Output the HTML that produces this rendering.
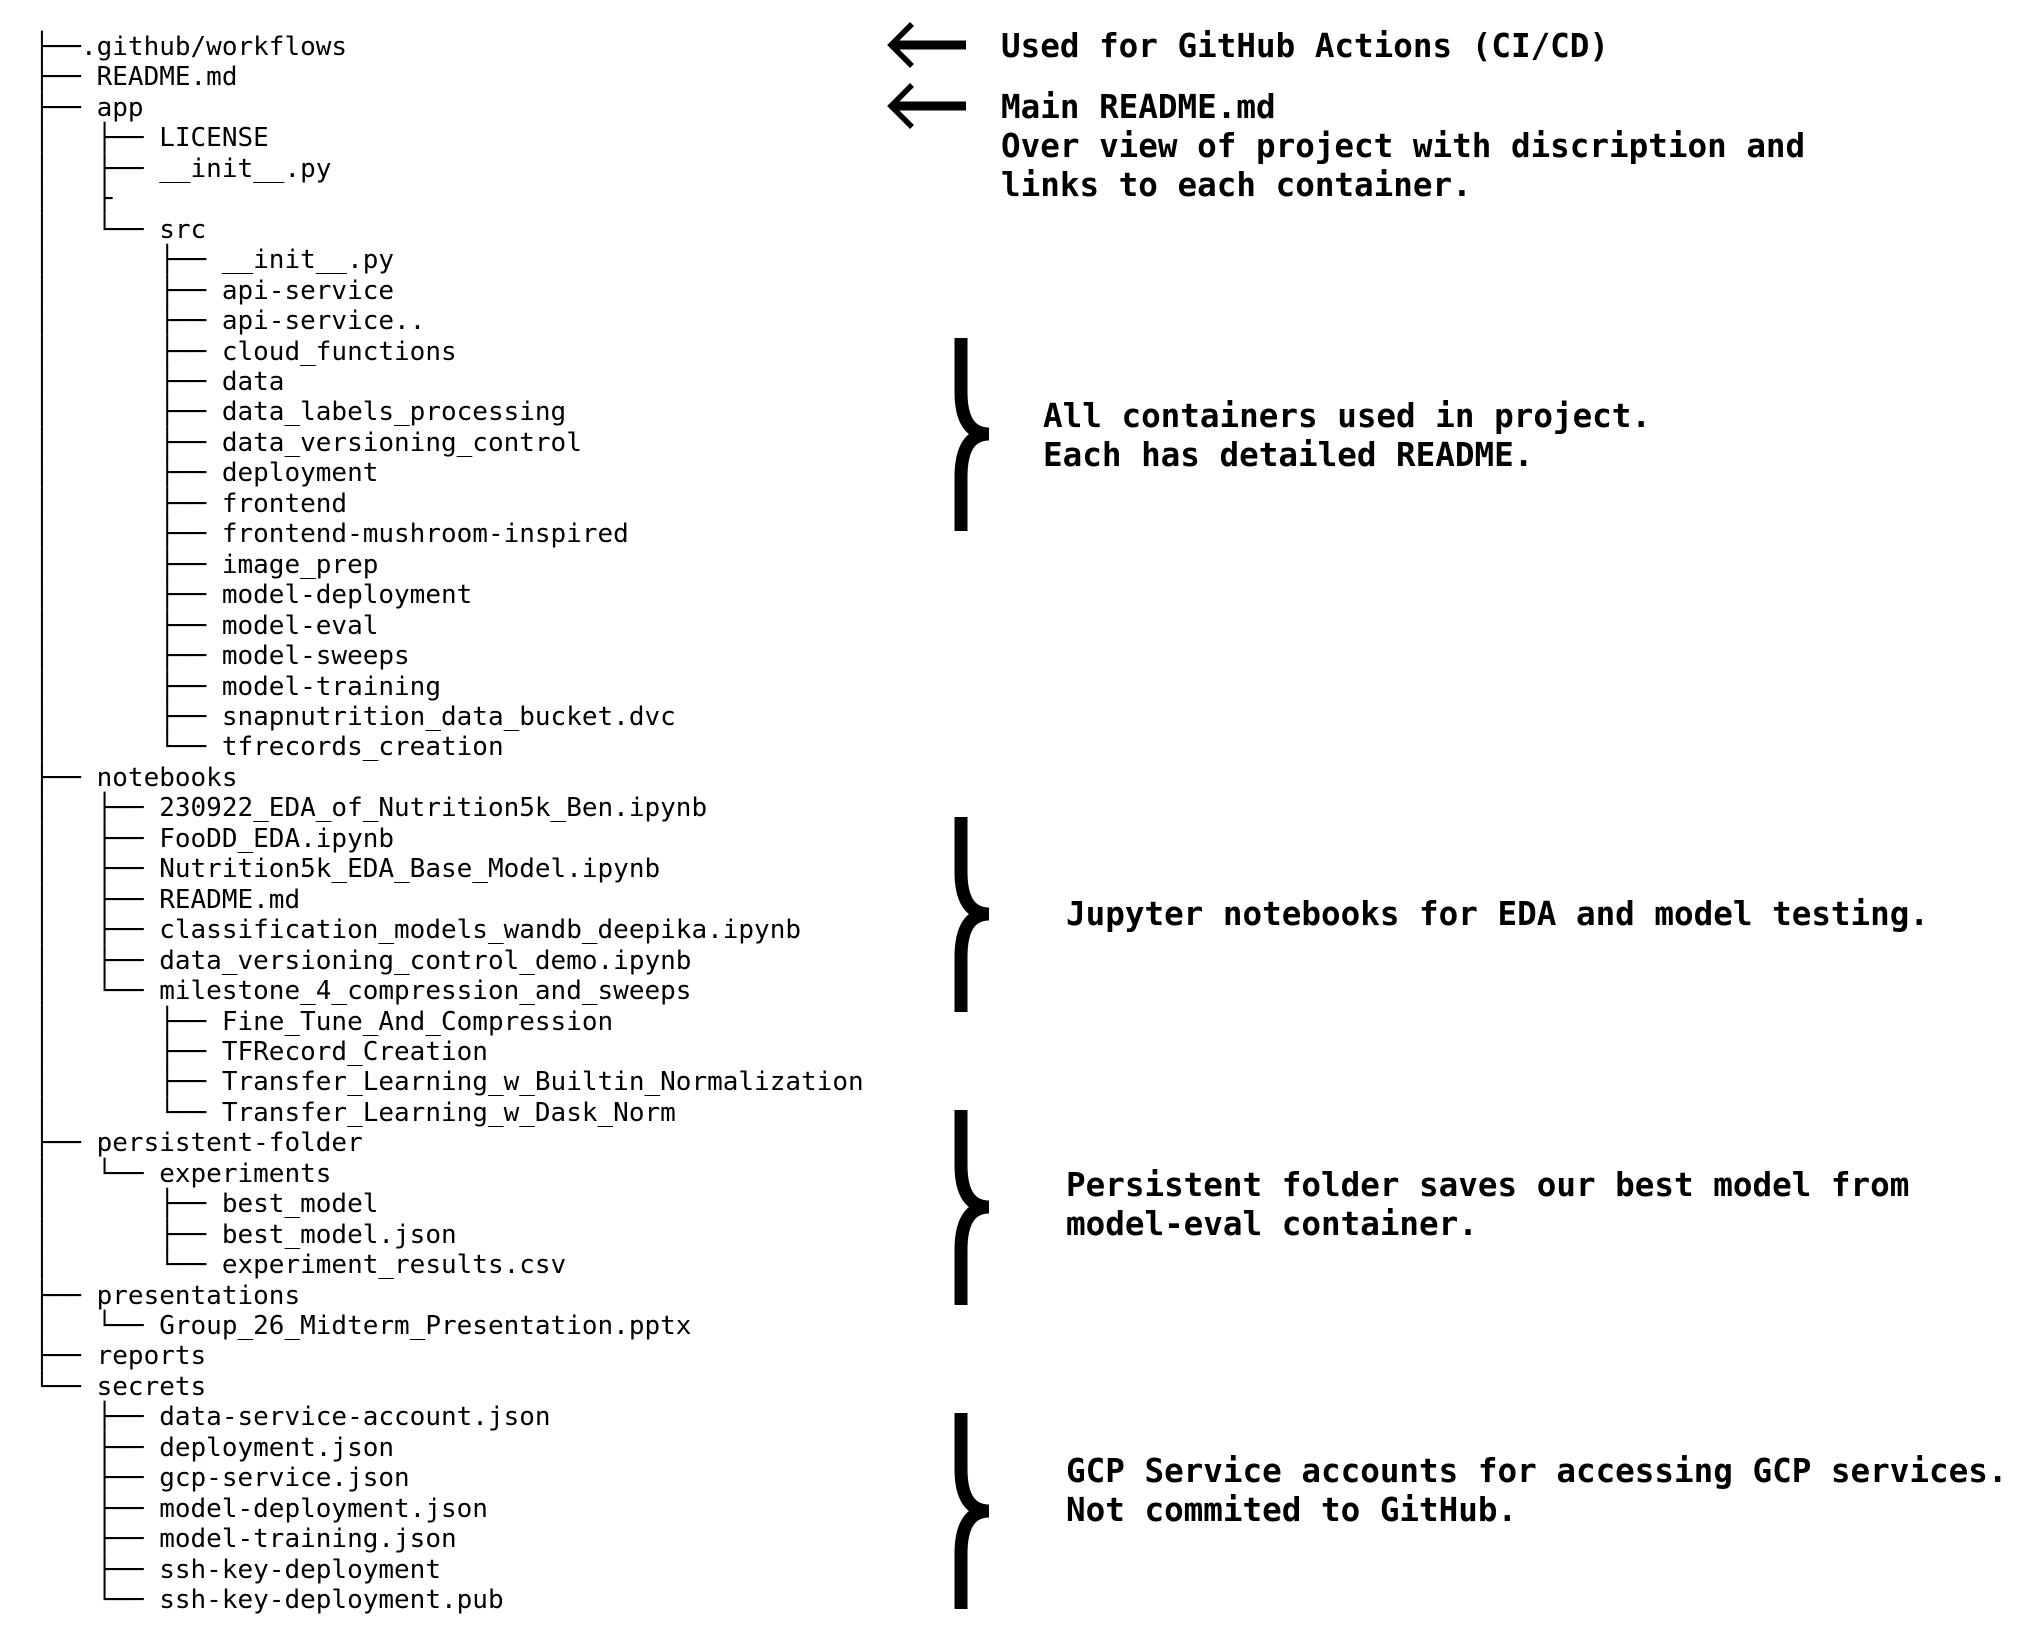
<!DOCTYPE html>
<html><head><meta charset="utf-8"><style>
html,body{margin:0;padding:0;background:#fff;width:2028px;height:1628px;overflow:hidden;position:relative}
pre{position:absolute;left:34px;top:32px;margin:0;font-family:"DejaVu Sans Mono","Liberation Mono",monospace;font-size:26px;line-height:30.45px;color:#000}
.t{position:absolute;font-family:"DejaVu Sans Mono","Liberation Mono",monospace;font-weight:bold;font-size:32.6px;line-height:39px;color:#000;white-space:pre}
svg{position:absolute;left:0;top:0}
</style></head><body>
<pre>├──.github/workflows
├── README.md
├── app
│   ├── LICENSE
│   ├── __init__.py
│   ├
│   └── src
│       ├── __init__.py
│       ├── api-service
│       ├── api-service..
│       ├── cloud_functions
│       ├── data
│       ├── data_labels_processing
│       ├── data_versioning_control
│       ├── deployment
│       ├── frontend
│       ├── frontend-mushroom-inspired
│       ├── image_prep
│       ├── model-deployment
│       ├── model-eval
│       ├── model-sweeps
│       ├── model-training
│       ├── snapnutrition_data_bucket.dvc
│       └── tfrecords_creation
├── notebooks
│   ├── 230922_EDA_of_Nutrition5k_Ben.ipynb
│   ├── FooDD_EDA.ipynb
│   ├── Nutrition5k_EDA_Base_Model.ipynb
│   ├── README.md
│   ├── classification_models_wandb_deepika.ipynb
│   ├── data_versioning_control_demo.ipynb
│   └── milestone_4_compression_and_sweeps
│       ├── Fine_Tune_And_Compression
│       ├── TFRecord_Creation
│       ├── Transfer_Learning_w_Builtin_Normalization
│       └── Transfer_Learning_w_Dask_Norm
├── persistent-folder
│   └── experiments
│       ├── best_model
│       ├── best_model.json
│       └── experiment_results.csv
├── presentations
│   └── Group_26_Midterm_Presentation.pptx
├── reports
└── secrets
    ├── data-service-account.json
    ├── deployment.json
    ├── gcp-service.json
    ├── model-deployment.json
    ├── model-training.json
    ├── ssh-key-deployment
    └── ssh-key-deployment.pub</pre>
<svg width="2028" height="1628" viewBox="0 0 2028 1628">
<g stroke="#000" fill="none">
<line x1="893" y1="45" x2="966" y2="45" stroke-width="9"/>
<polyline points="912,24 891,45 912,66" stroke-width="5.5" stroke-linejoin="miter"/>
<line x1="893" y1="106" x2="966" y2="106" stroke-width="9"/>
<polyline points="912,85 891,106 912,127" stroke-width="5.5"/>
<g stroke-width="13" transform="translate(-5,-3)">
<path d="M966 341 L966 395 Q966 437 994 437 Q966 437 966 480 L966 534"/>
<path d="M966 820 L966 875 Q966 917 994 917 Q966 917 966 960 L966 1015"/>
<path d="M966 1113 L966 1168 Q966 1210 994 1210 Q966 1210 966 1253 L966 1308"/>
<path d="M966 1416 L966 1472 Q966 1514 994 1514 Q966 1514 966 1557 L966 1612"/>
</g></g></svg>
<div class="t" style="left:1001px;top:27px">Used for GitHub Actions (CI/CD)</div>
<div class="t" style="left:1001px;top:88px">Main README.md
Over view of project with discription and
links to each container.</div>
<div class="t" style="left:1043px;top:397px">All containers used in project.
Each has detailed README.</div>
<div class="t" style="left:1066px;top:895px">Jupyter notebooks for EDA and model testing.</div>
<div class="t" style="left:1066px;top:1166px">Persistent folder saves our best model from
model-eval container.</div>
<div class="t" style="left:1066px;top:1452px">GCP Service accounts for accessing GCP services.
Not commited to GitHub.</div>
</body></html>
